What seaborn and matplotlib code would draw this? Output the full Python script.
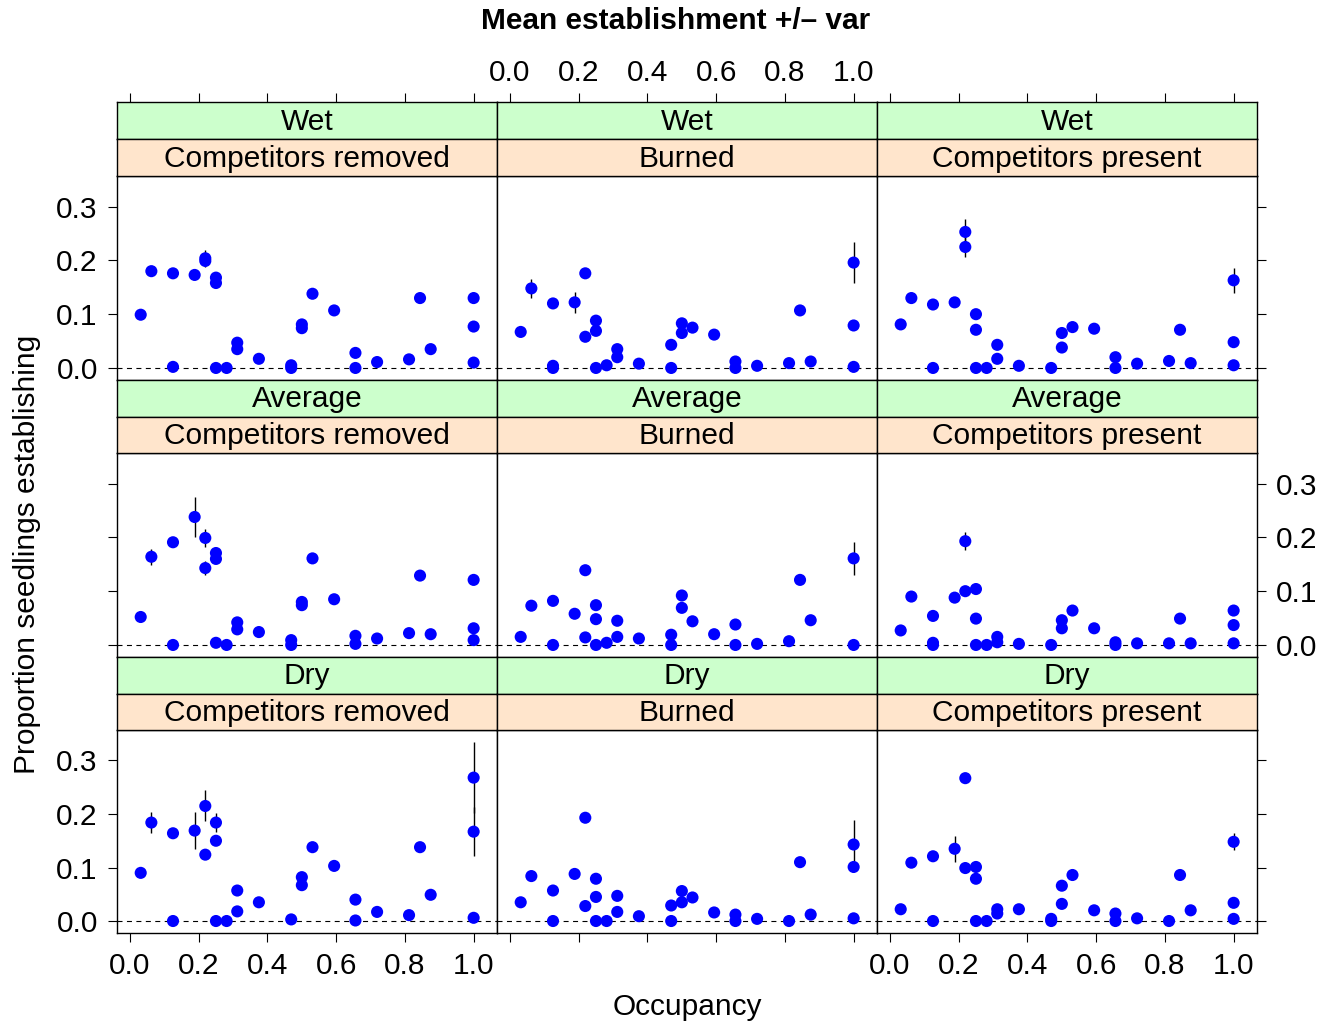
import numpy as np
import pandas as pd
import matplotlib
matplotlib.use("Agg")
import matplotlib.pyplot as plt
import seaborn as sns

sns.set_theme(style="white")
plt.rcParams['font.family'] = ['Liberation Sans', 'DejaVu Sans']

# ---------------- data ----------------
moisture = ["Wet", "Average", "Dry"]
treatment = ["Competitors removed", "Burned", "Competitors present"]
xticks = [0.0, 0.2, 0.4, 0.6, 0.8, 1.0]
yticks = [0.0, 0.1, 0.2, 0.3]

# Wet
occ_wet_removed = [0.031, 0.062, 0.125, 0.125, 0.188, 0.219, 0.219, 0.25, 0.25, 0.25, 0.281, 0.312, 0.312, 0.375, 0.469, 0.469, 0.5, 0.5, 0.531, 0.594, 0.656, 0.656, 0.719, 0.812, 0.844, 0.875, 1.0, 1.0, 1.0]
est_wet_removed = [0.099, 0.180, 0.176, 0.002, 0.173, 0.204, 0.199, 0.168, 0.158, 0.0, 0.0, 0.047, 0.035, 0.017, 0.005, 0.0, 0.081, 0.074, 0.138, 0.107, 0.028, 0.0, 0.011, 0.016, 0.130, 0.035, 0.130, 0.077, 0.010]
var_wet_removed = [0, 0, 0, 0, 0, 0.016, 0, 0, 0, 0, 0, 0, 0, 0, 0, 0, 0, 0, 0, 0, 0, 0, 0, 0, 0, 0, 0, 0, 0]

occ_wet_burned = [0.031, 0.062, 0.125, 0.125, 0.125, 0.188, 0.219, 0.219, 0.25, 0.25, 0.25, 0.281, 0.312, 0.312, 0.375, 0.469, 0.469, 0.5, 0.5, 0.531, 0.594, 0.656, 0.656, 0.719, 0.812, 0.844, 0.875, 1.0, 1.0, 1.0]
est_wet_burned = [0.067, 0.148, 0.120, 0.004, 0.0, 0.122, 0.176, 0.058, 0.088, 0.069, 0.0, 0.005, 0.035, 0.020, 0.008, 0.043, 0.0, 0.083, 0.065, 0.075, 0.062, 0.012, 0.0, 0.004, 0.009, 0.107, 0.012, 0.196, 0.079, 0.002]
var_wet_burned = [0, 0.017, 0, 0, 0, 0.019, 0, 0, 0, 0, 0, 0, 0, 0, 0, 0, 0, 0, 0, 0, 0, 0, 0, 0, 0, 0, 0, 0.038, 0, 0]

occ_wet_present = [0.031, 0.062, 0.125, 0.125, 0.188, 0.219, 0.219, 0.25, 0.25, 0.25, 0.281, 0.312, 0.312, 0.375, 0.469, 0.5, 0.5, 0.531, 0.594, 0.656, 0.656, 0.719, 0.812, 0.844, 0.875, 1.0, 1.0, 1.0]
est_wet_present = [0.081, 0.130, 0.118, 0.0, 0.122, 0.253, 0.225, 0.100, 0.071, 0.0, 0.0, 0.043, 0.017, 0.004, 0.0, 0.065, 0.038, 0.076, 0.073, 0.020, 0.0, 0.008, 0.013, 0.071, 0.009, 0.163, 0.048, 0.005]
var_wet_present = [0, 0, 0, 0, 0, 0.024, 0.018, 0, 0, 0, 0, 0, 0, 0, 0, 0, 0, 0, 0, 0, 0, 0, 0, 0, 0, 0.023, 0, 0]

# Average
occ_avg_removed = [0.031, 0.062, 0.125, 0.125, 0.188, 0.219, 0.219, 0.25, 0.25, 0.25, 0.281, 0.312, 0.312, 0.375, 0.469, 0.469, 0.5, 0.5, 0.531, 0.594, 0.656, 0.656, 0.719, 0.812, 0.844, 0.875, 1.0, 1.0, 1.0]
est_avg_removed = [0.052, 0.164, 0.191, 0.0, 0.238, 0.199, 0.143, 0.171, 0.160, 0.004, 0.0, 0.042, 0.029, 0.024, 0.009, 0.0, 0.080, 0.074, 0.161, 0.085, 0.017, 0.002, 0.012, 0.022, 0.129, 0.020, 0.121, 0.031, 0.009]
var_avg_removed = [0, 0.015, 0, 0, 0.037, 0.016, 0.013, 0, 0, 0, 0, 0, 0, 0, 0, 0, 0, 0, 0, 0, 0, 0, 0, 0, 0, 0, 0, 0, 0]

occ_avg_burned = [0.031, 0.062, 0.125, 0.125, 0.188, 0.219, 0.219, 0.25, 0.25, 0.25, 0.281, 0.312, 0.312, 0.375, 0.469, 0.469, 0.5, 0.5, 0.531, 0.594, 0.656, 0.656, 0.719, 0.812, 0.844, 0.875, 1.0, 1.0]
est_avg_burned = [0.015, 0.073, 0.082, 0.0, 0.058, 0.139, 0.014, 0.074, 0.048, 0.0, 0.004, 0.045, 0.015, 0.012, 0.019, 0.0, 0.092, 0.069, 0.044, 0.020, 0.038, 0.0, 0.002, 0.007, 0.121, 0.046, 0.161, 0.0]
var_avg_burned = [0, 0, 0, 0, 0, 0, 0, 0, 0, 0, 0, 0, 0, 0, 0, 0, 0, 0, 0, 0, 0, 0, 0, 0, 0, 0, 0.031, 0]

occ_avg_present = [0.031, 0.062, 0.125, 0.125, 0.125, 0.188, 0.219, 0.219, 0.25, 0.25, 0.25, 0.281, 0.312, 0.312, 0.375, 0.469, 0.5, 0.5, 0.531, 0.594, 0.656, 0.656, 0.719, 0.812, 0.844, 0.875, 1.0, 1.0, 1.0]
est_avg_present = [0.027, 0.090, 0.054, 0.004, 0.0, 0.088, 0.193, 0.100, 0.104, 0.049, 0.0, 0.0, 0.015, 0.005, 0.002, 0.0, 0.046, 0.031, 0.064, 0.031, 0.005, 0.0, 0.003, 0.003, 0.049, 0.003, 0.064, 0.037, 0.003]
var_avg_present = [0, 0, 0, 0, 0, 0, 0.017, 0, 0, 0, 0, 0, 0, 0, 0, 0, 0, 0, 0, 0, 0, 0, 0, 0, 0, 0, 0, 0, 0]

# Dry
occ_dry_removed = [0.031, 0.062, 0.125, 0.125, 0.188, 0.219, 0.219, 0.25, 0.25, 0.25, 0.281, 0.312, 0.312, 0.375, 0.469, 0.5, 0.5, 0.531, 0.594, 0.656, 0.656, 0.719, 0.812, 0.844, 0.875, 1.0, 1.0, 1.0]
est_dry_removed = [0.090, 0.184, 0.164, 0.0, 0.169, 0.215, 0.124, 0.184, 0.150, 0.0, 0.0, 0.057, 0.018, 0.035, 0.003, 0.082, 0.067, 0.138, 0.103, 0.040, 0.001, 0.017, 0.011, 0.138, 0.049, 0.268, 0.167, 0.006]
var_dry_removed = [0, 0.019, 0, 0, 0.034, 0.029, 0, 0.017, 0, 0, 0, 0, 0, 0, 0, 0, 0, 0, 0, 0, 0, 0, 0, 0, 0, 0.067, 0.046, 0]

occ_dry_burned = [0.031, 0.062, 0.125, 0.125, 0.188, 0.219, 0.219, 0.25, 0.25, 0.25, 0.281, 0.312, 0.312, 0.375, 0.469, 0.469, 0.5, 0.5, 0.531, 0.594, 0.656, 0.656, 0.719, 0.812, 0.844, 0.875, 1.0, 1.0, 1.0]
est_dry_burned = [0.035, 0.084, 0.057, 0.0, 0.088, 0.193, 0.028, 0.079, 0.045, 0.0, 0.0, 0.047, 0.017, 0.009, 0.029, 0.0, 0.056, 0.035, 0.044, 0.016, 0.012, 0.0, 0.004, 0.0, 0.110, 0.012, 0.143, 0.101, 0.005]
var_dry_burned = [0, 0, 0, 0, 0, 0, 0, 0, 0, 0, 0, 0, 0, 0, 0, 0, 0, 0, 0, 0, 0, 0, 0, 0, 0, 0, 0.045, 0, 0]

occ_dry_present = [0.031, 0.062, 0.125, 0.125, 0.188, 0.219, 0.219, 0.25, 0.25, 0.25, 0.281, 0.312, 0.312, 0.375, 0.469, 0.469, 0.5, 0.5, 0.531, 0.594, 0.656, 0.656, 0.719, 0.812, 0.844, 0.875, 1.0, 1.0, 1.0]
est_dry_present = [0.022, 0.109, 0.121, 0.0, 0.135, 0.267, 0.099, 0.101, 0.079, 0.0, 0.0, 0.022, 0.014, 0.022, 0.004, 0.0, 0.066, 0.032, 0.086, 0.020, 0.014, 0.0, 0.005, 0.0, 0.086, 0.020, 0.148, 0.034, 0.004]
var_dry_present = [0, 0, 0, 0, 0.024, 0, 0, 0, 0, 0, 0, 0, 0, 0, 0, 0, 0, 0, 0, 0, 0, 0, 0, 0, 0, 0, 0.016, 0, 0]

panel_data = {
    ("Wet", "Competitors removed"): (occ_wet_removed, est_wet_removed, var_wet_removed),
    ("Wet", "Burned"): (occ_wet_burned, est_wet_burned, var_wet_burned),
    ("Wet", "Competitors present"): (occ_wet_present, est_wet_present, var_wet_present),
    ("Average", "Competitors removed"): (occ_avg_removed, est_avg_removed, var_avg_removed),
    ("Average", "Burned"): (occ_avg_burned, est_avg_burned, var_avg_burned),
    ("Average", "Competitors present"): (occ_avg_present, est_avg_present, var_avg_present),
    ("Dry", "Competitors removed"): (occ_dry_removed, est_dry_removed, var_dry_removed),
    ("Dry", "Burned"): (occ_dry_burned, est_dry_burned, var_dry_burned),
    ("Dry", "Competitors present"): (occ_dry_present, est_dry_present, var_dry_present),
}

frames = []
for (m, t), (o, e, v) in panel_data.items():
    frames.append(pd.DataFrame({"moisture": m, "treatment": t,
                                "occupancy": o, "establishment": e, "var": v}))
df = pd.concat(frames, ignore_index=True)

# ---------------- layout ----------------
W, H = 1336, 1026
fig = plt.figure(figsize=(W / 100, H / 100), dpi=100)

col_left = [117, 497, 877]
col_w = 380
strip_top = [102, 380, 657]
plot_top = [176, 453, 730]
plot_bot = [380, 657, 933]

XLIM = (-0.038, 1.068)
YLIM = (-0.0224, 0.357)
FS = 21.5
GREEN = "#CCFFCC"
PEACH = "#FFE5CC"
BLUE = "#0000FF"


def rect(x0, y0, x1, y1):
    return [x0 / W, 1 - y1 / H, (x1 - x0) / W, (y1 - y0) / H]


def style_spines(ax):
    for s in ax.spines.values():
        s.set_color("black")
        s.set_linewidth(1.0)
        s.set_visible(True)


tick_kw = dict(direction="out", length=6.8, width=0.8, color="black",
               labelsize=FS, labelcolor="black")

for r, m in enumerate(moisture):
    mid = (strip_top[r] + plot_top[r]) / 2
    for c, t in enumerate(treatment):
        x0 = col_left[c]
        x1 = x0 + col_w
        ax = fig.add_axes(rect(x0, plot_top[r], x1, plot_bot[r]))
        sub = df[(df.moisture == m) & (df.treatment == t)]
        eb = sub[sub["var"] > 0]
        ax.vlines(eb["occupancy"], eb["establishment"] - eb["var"],
                  eb["establishment"] + eb["var"], color="black", lw=1.0, zorder=2)
        sns.scatterplot(data=sub, x="occupancy", y="establishment", ax=ax,
                        color=BLUE, s=76, edgecolor="none", linewidth=0,
                        zorder=3, legend=False)
        ax.axhline(0, color="black", lw=0.8, ls=(0, (4.5, 4)), zorder=1)
        ax.set_xlim(XLIM)
        ax.set_ylim(YLIM)
        ax.set_xlabel("")
        ax.set_ylabel("")
        ax.set_facecolor("white")
        style_spines(ax)
        ax.set_xticks(xticks)
        ax.set_xticklabels([f"{v:.1f}" for v in xticks])
        ax.set_yticks(yticks)
        ax.set_yticklabels([f"{v:.1f}" for v in yticks])
        ax.tick_params(axis="both", which="both", **tick_kw)
        ax.tick_params(axis="x", pad=7)
        ax.tick_params(axis="y", pad=7)
        # x ticks: bottom row only
        ax.tick_params(axis="x", top=False, labeltop=False,
                       bottom=(r == 2), labelbottom=(r == 2 and c != 1))
        # y ticks: outer columns only, alternating labels
        ax.tick_params(axis="y", left=(c == 0), labelleft=(c == 0 and r != 1),
                       right=(c == 2), labelright=(c == 2 and r == 1))

        # strips
        for k, (y0, y1, label, col) in enumerate([
                (strip_top[r], mid, m, GREEN),
                (mid, plot_top[r], t, PEACH)]):
            sa = fig.add_axes(rect(x0, y0, x1, y1))
            sa.set_facecolor(col)
            style_spines(sa)
            sa.set_xlim(XLIM)
            sa.set_ylim(0, 1)
            sa.set_yticks([])
            sa.text(0.5, 0.47, label, transform=sa.transAxes, ha="center",
                    va="center", fontsize=FS, color="black")
            if r == 0 and k == 0:
                sa.set_xticks(xticks)
                sa.set_xticklabels([f"{v:.1f}" for v in xticks])
                sa.tick_params(axis="x", **tick_kw)
                sa.tick_params(axis="x", pad=4, bottom=False, labelbottom=False,
                               top=True, labeltop=(c == 1))
            else:
                sa.set_xticks([])

fig.text(676 / W, 1 - 21 / H, "Mean establishment +/– var", ha="center",
         va="center", fontsize=FS, fontweight="bold", color="black")
fig.text(687 / W, 1 - 1007 / H, "Occupancy", ha="center", va="center",
         fontsize=FS, color="black")
fig.text(27 / W, 1 - 554 / H, "Proportion seedlings establishing", ha="center",
         va="center", rotation=90, fontsize=FS, color="black")

fig.savefig("out.png", dpi=100, facecolor="white")
